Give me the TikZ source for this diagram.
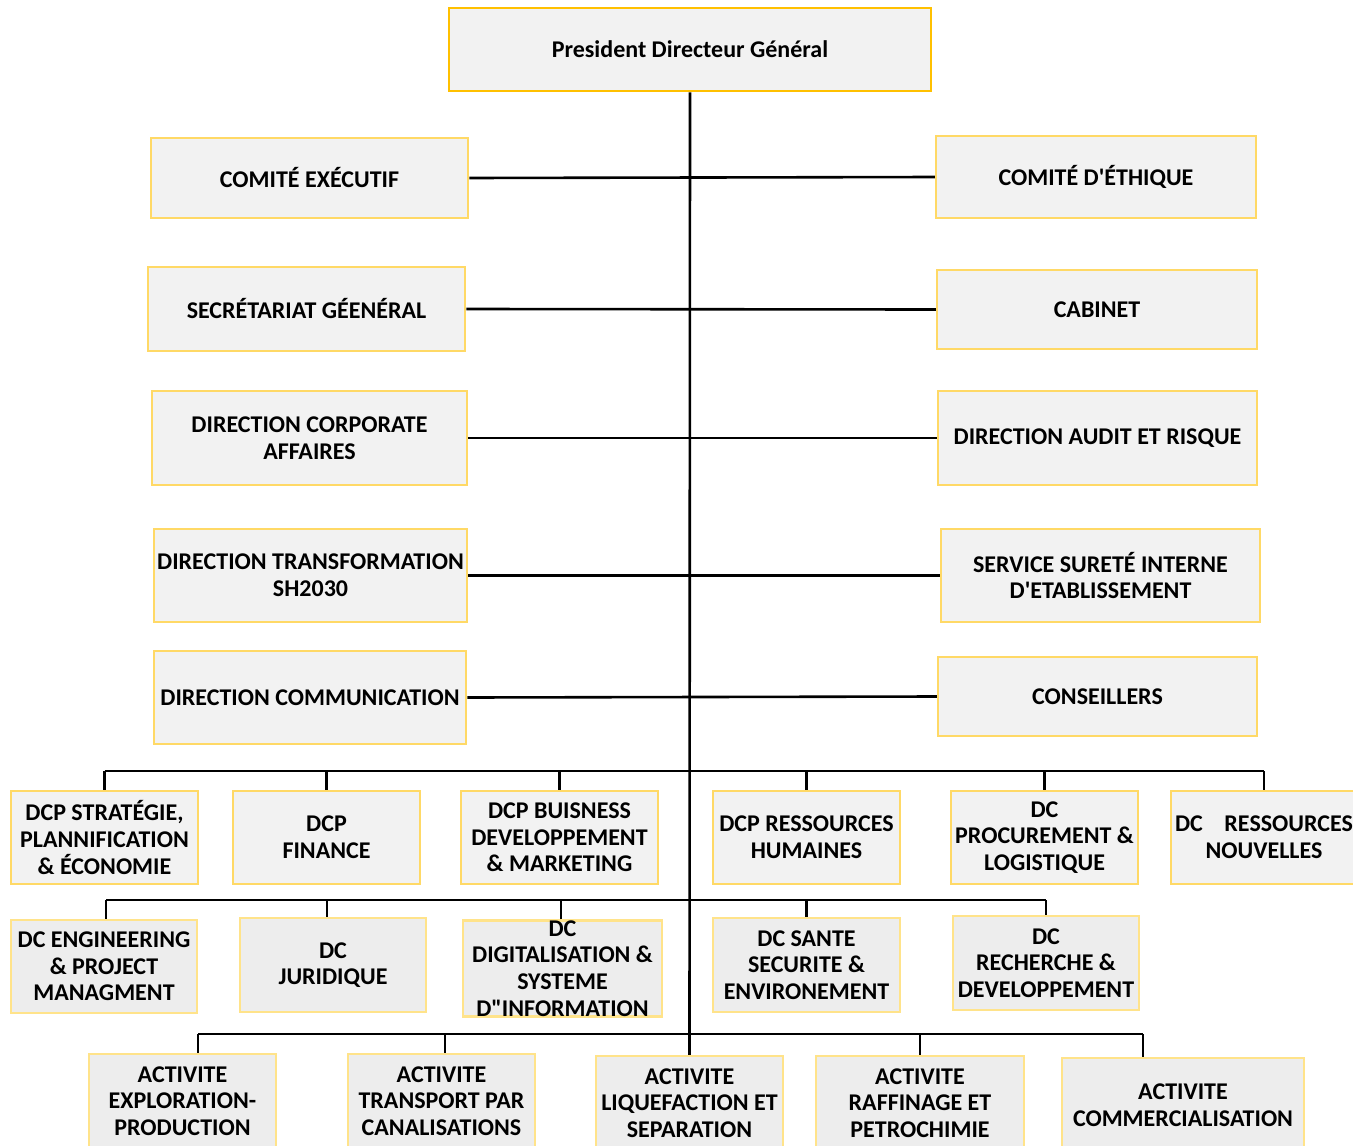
\documentclass[tikz,border=0pt]{standalone}
\usepackage{fontspec}
\setmainfont{Carlito}[Ligatures=TeXOff]
\usepackage{tikz}

\definecolor{gold}{HTML}{FFC000}
\definecolor{lightgold}{HTML}{FFD966}
\definecolor{palegold}{HTML}{FFE38A}
\definecolor{boxgray}{HTML}{F2F2F2}
\definecolor{boxgray2}{HTML}{EDEDED}

\begin{document}
\begin{tikzpicture}[x=1pt, y=-1pt,
    every node/.style={draw=lightgold, line width=2.5pt, fill=boxgray, align=center,
        inner sep=1pt, font=\fontsize{24}{26.7}\selectfont\bfseries},
    low/.style={draw=palegold, fill=boxgray2},
    link/.style={line width=2.6pt}]
    \clip (0,0) rectangle (1353,1146);

    \node[draw=gold, minimum width=482, minimum height=83] (pdg) at (690,49.5) {President Directeur Général};

    % left column
    \node[minimum width=317, minimum height=80] (ce) at (309.5,178) {COMITÉ EXÉCUTIF};
    \node[minimum width=317, minimum height=84] (sg) at (306.5,309) {SECRÉTARIAT GÉENÉRAL};
    \node[minimum width=315, minimum height=94] (dca) at (309.5,438) {DIRECTION CORPORATE\\AFFAIRES};
    \node[minimum width=313, minimum height=93] (dts) at (310.5,575.5) {DIRECTION TRANSFORMATION\\SH2030};
    \node[minimum width=312, minimum height=93] (dcom) at (310,697.5) {DIRECTION COMMUNICATION};

    % right column
    \node[minimum width=320, minimum height=82] (cde) at (1096,177) {COMITÉ D'ÉTHIQUE};
    \node[minimum width=320, minimum height=79] (cab) at (1097,309.5) {CABINET};
    \node[minimum width=319, minimum height=94] (dar) at (1097.5,438) {DIRECTION AUDIT ET RISQUE};
    \node[minimum width=319, minimum height=93] (sst) at (1100.5,575.5) {SERVICE SURETÉ INTERNE\\D'ETABLISSEMENT};
    \node[minimum width=319, minimum height=79] (cons) at (1097.5,696.5) {CONSEILLERS};

    % first row
    \node[minimum width=187, minimum height=93] (s1) at (104.5,837.5) {DCP STRATÉGIE,\\PLANNIFICATION\\\& ÉCONOMIE};
    \node[minimum width=187, minimum height=93] (s2) at (326.5,837.5) {DCP\\FINANCE};
    \node[minimum width=197, minimum height=93] (s3) at (559.5,837.5) {DCP BUISNESS\\DEVELOPPEMENT\\\& MARKETING};
    \node[minimum width=187, minimum height=93] (s4) at (806.5,837.5) {DCP RESSOURCES\\HUMAINES};
    \node[minimum width=187, minimum height=93] (s5) at (1044.5,837.5) {DC\\PROCUREMENT \&\\LOGISTIQUE};
    \node[minimum width=186, minimum height=93] (s6) at (1264,837.5) {DC\hspace{0.9em}RESSOURCES\\NOUVELLES};

    % second row
    \node[low, minimum width=186, minimum height=93] (d1) at (104,966.5) {DC ENGINEERING\\\& PROJECT\\MANAGMENT};
    \node[low, minimum width=186, minimum height=94] (d2) at (333,965) {DC\\JURIDIQUE};
    \node[low, minimum width=199, minimum height=95, inner ysep=0pt] (d3) at (562.5,968.5) {DC\\DIGITALISATION \&\\SYSTEME\\D"INFORMATION};
    \node[low, minimum width=187, minimum height=94] (d4) at (806.5,965) {DC SANTE\\SECURITE \&\\ENVIRONEMENT};
    \node[low, minimum width=186, minimum height=94] (d5) at (1046,963) {DC\\RECHERCHE \&\\DEVELOPPEMENT};

    % third row
    \node[low, minimum width=187, minimum height=94] (a1) at (182.5,1101) {ACTIVITE\\EXPLORATION-\\PRODUCTION};
    \node[low, minimum width=187, minimum height=94] (a2) at (441.5,1101) {ACTIVITE\\TRANSPORT PAR\\CANALISATIONS};
    \node[low, minimum width=187, minimum height=94] (a3) at (689.5,1103) {ACTIVITE\\LIQUEFACTION ET\\SEPARATION};
    \node[low, minimum width=208, minimum height=94] (a4) at (920,1103) {ACTIVITE\\RAFFINAGE ET\\PETROCHIMIE};
    \node[low, minimum width=242, minimum height=94] (a5) at (1183,1105) {ACTIVITE\\COMMERCIALISATION};

    \coordinate (bus1) at (690,771);
    \coordinate (bus2) at (690,900);
    \coordinate (bus3) at (690,1034);

    % trunk and side links
    \draw[link] (pdg.south) -- (a3.north);
    \foreach \l/\r in {ce/cde, sg/cab, dca/dar, dts/sst, dcom/cons}
        \draw[link] (\l.east) -- (\r.west);

    % buses
    \draw[link] (s1.north |- bus1) -- (s6.north |- bus1);
    \foreach \n in {1,...,6}
        \draw[link] (s\n.north) -- (s\n.north |- bus1);

    \draw[link] ([xshift=2pt]d1.north |- bus2) -- (d5.north |- bus2);
    \foreach \n/\dx in {1/2, 2/-6, 3/-1.5, 4/0, 5/0}
        \draw[link] ([xshift=\dx pt]d\n.north) -- ([xshift=\dx pt]d\n.north |- bus2);

    \draw[link] ([xshift=15.5pt]a1.north |- bus3) -- ([xshift=-40pt]a5.north |- bus3);
    \foreach \n/\dx in {1/15.5, 2/3.5, 4/0, 5/-40}
        \draw[link] ([xshift=\dx pt]a\n.north) -- ([xshift=\dx pt]a\n.north |- bus3);
\end{tikzpicture}
\end{document}
